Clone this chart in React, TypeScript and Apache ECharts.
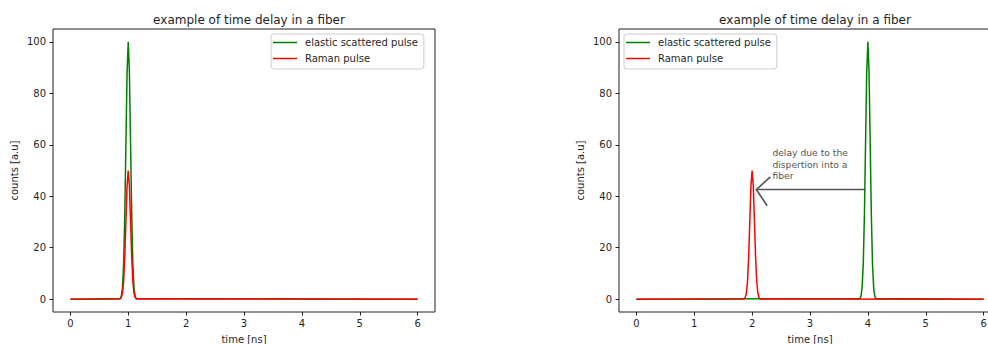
import React, { useEffect, useRef } from "react";
import * as echarts from "echarts";

// Sample offsets (ns) around each pulse centre, and the pulse heights read at those offsets
const pulseOffsets = [-0.14, -0.12, -0.1, -0.08, -0.06, -0.04, -0.02, 0, 0.02, 0.04, 0.06, 0.08, 0.1, 0.12, 0.14];
const elasticCounts = [0.2, 1.1, 4.4, 13.5, 32.5, 60.7, 88.3, 100, 88.3, 60.7, 32.5, 13.5, 4.4, 1.1, 0.2];
const ramanCounts = [0.1, 0.6, 2.2, 6.8, 16.2, 30.3, 44.1, 50, 44.1, 30.3, 16.2, 6.8, 2.2, 0.6, 0.1];

// Pulse centres (ns): left panel without delay, right panel with delay
const leftElasticCentre = 1;
const leftRamanCentre = 1;
const rightElasticCentre = 4;
const rightRamanCentre = 2;

const timeSpan = [0, 6];
const xTicks = [0, 1, 2, 3, 4, 5, 6];
const yTicks = [0, 20, 40, 60, 80, 100];

// Annotation in data coordinates of the right panel
const arrowTail = [3.96, 42.6];
const arrowTip = [2.073, 42.6];
const arrowHeadUpper = [2.315, 47.5];
const arrowHeadLower = [2.26, 36.3];
const noteAnchor = [2.35, 59.2];
const noteText = "delay due to the\ndispertion into a\nfiber";

const TITLE = "example of time delay in a fiber";
const ELASTIC = "elastic scattered pulse";
const RAMAN = "Raman pulse";

const FONT = "DejaVu Sans";
const INK = "#1f1f1f";

function pulseTrace(centre: number, counts: number[]): number[][] {
  const pts: number[][] = [[timeSpan[0], 0]];
  pulseOffsets.forEach((d, i) => pts.push([+(centre + d).toFixed(3), counts[i]]));
  pts.push([timeSpan[1], 0]);
  return pts;
}

const GRID_W = 382;
const GRID_H = 283;
const GRID_TOP = 29;
const LEFTS = [53, 619];
// The second panel runs past the visible page edge, so the canvas is wider than the page.
const CANVAS_W = 1020;

export default function App() {
  const ref = useRef<HTMLDivElement>(null);

  useEffect(() => {
    if (!ref.current) return;
    const chart = echarts.init(ref.current, undefined, { renderer: "svg" });

    const xAxis = (gridIndex: number) => ({
      type: "value",
      gridIndex,
      min: -0.3,
      max: 6.3,
      name: "time [ns]",
      nameLocation: "middle",
      nameGap: 22,
      nameTextStyle: { fontFamily: FONT, fontSize: 10, color: INK },
      axisLine: { show: false, onZero: false },
      splitLine: { show: false },
      axisTick: { show: true, length: 3.5, lineStyle: { color: INK, width: 1 }, customValues: xTicks },
      axisLabel: { fontFamily: FONT, fontSize: 10, color: INK, margin: 6, customValues: xTicks },
    });

    const yAxis = (gridIndex: number) => ({
      type: "value",
      gridIndex,
      min: -5,
      max: 105,
      name: "counts [a.u]",
      nameLocation: "middle",
      nameGap: 34,
      nameTextStyle: { fontFamily: FONT, fontSize: 10, color: INK },
      axisLine: { show: false, onZero: false },
      splitLine: { show: false },
      axisTick: { show: true, length: 3.5, lineStyle: { color: INK, width: 1 }, customValues: yTicks },
      axisLabel: { fontFamily: FONT, fontSize: 10, color: INK, margin: 7, customValues: yTicks },
    });

    const line = (name: string, color: string, idx: number, data: number[][], z: number) => ({
      type: "line",
      name,
      xAxisIndex: idx,
      yAxisIndex: idx,
      data,
      showSymbol: false,
      symbol: "none",
      color,
      z,
      lineStyle: { color, width: 1.5 },
    });

    const legend = (left: number) => ({
      orient: "vertical",
      left,
      top: 34,
      data: [ELASTIC, RAMAN],
      icon: "rect",
      itemWidth: 24,
      itemHeight: 1.5,
      itemGap: 3,
      padding: [2, 6, 4, 2],
      backgroundColor: "rgba(255,255,255,0.8)",
      borderColor: "#cccccc",
      borderWidth: 1,
      borderRadius: 3,
      textStyle: { fontFamily: FONT, fontSize: 10, color: INK, lineHeight: 13, padding: [0, 0, 0, 3] },
      selectedMode: false,
    });

    chart.setOption({
      animation: false,
      backgroundColor: "#ffffff",
      title: LEFTS.map((l) => ({
        text: TITLE,
        left: l + GRID_W / 2,
        top: 9,
        textAlign: "center",
        textStyle: { fontFamily: FONT, fontSize: 12, fontWeight: "normal", color: INK },
      })),
      grid: LEFTS.map((l) => ({
        left: l,
        top: GRID_TOP,
        width: GRID_W,
        height: GRID_H,
        outerBoundsMode: "none",
        containLabel: false,
        show: true,
        borderColor: INK,
        borderWidth: 1,
        backgroundColor: "transparent",
      })),
      xAxis: [xAxis(0), xAxis(1)],
      yAxis: [yAxis(0), yAxis(1)],
      legend: [legend(271), legend(624)],
      series: [
        line(ELASTIC, "#008000", 0, pulseTrace(leftElasticCentre, elasticCounts), 2),
        line(RAMAN, "#ff0000", 0, pulseTrace(leftRamanCentre, ramanCounts), 3),
        line(ELASTIC, "#008000", 1, pulseTrace(rightElasticCentre, elasticCounts), 2),
        line(RAMAN, "#ff0000", 1, pulseTrace(rightRamanCentre, ramanCounts), 3),
        {
          type: "custom",
          xAxisIndex: 1,
          yAxisIndex: 1,
          silent: true,
          clip: false,
          z: 4,
          data: [[0]],
          renderItem: (_params: any, api: any) => {
            const tail = api.coord(arrowTail);
            const tip = api.coord(arrowTip);
            const up = api.coord(arrowHeadUpper);
            const lo = api.coord(arrowHeadLower);
            const anchor = api.coord(noteAnchor);
            const stroke = { stroke: "#555555", lineWidth: 1.6, fill: null };
            return {
              type: "group",
              children: [
                { type: "polyline", shape: { points: [tail, tip] }, style: stroke },
                { type: "polyline", shape: { points: [up, tip, lo] }, style: stroke },
                {
                  type: "text",
                  x: anchor[0],
                  y: anchor[1],
                  style: {
                    text: noteText,
                    fill: "#555555",
                    font: `9.2px "${FONT}"`,
                    lineHeight: 11.5,
                    align: "left",
                    verticalAlign: "top",
                  },
                },
              ],
            };
          },
        },
      ],
    });

    return () => chart.dispose();
  }, []);

  return (
    <div style={{ position: "fixed", left: 0, top: 0, width: 988, height: 344, overflow: "hidden", background: "#fff" }}>
      <div ref={ref} style={{ width: CANVAS_W, height: 344 }} />
    </div>
  );
}
